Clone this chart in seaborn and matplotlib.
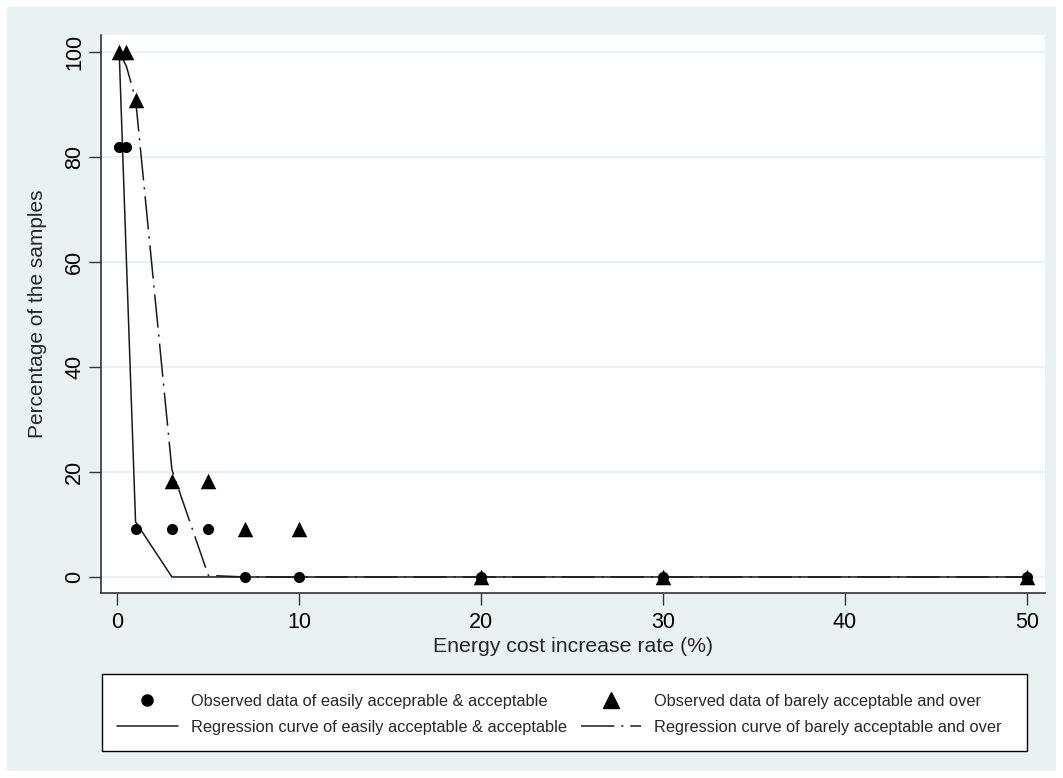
import matplotlib
matplotlib.use("Agg")
import matplotlib.pyplot as plt
import seaborn as sns
from matplotlib.lines import Line2D
from matplotlib.patches import Rectangle

# energy cost increase rate (%)
rate = [0.1, 0.5, 1, 3, 5, 7, 10, 20, 30, 50]
# observed percentages
easy_obs = [81.8, 81.8, 9.1, 9.1, 9.1, 0, 0, 0, 0, 0]
barely_obs = [100, 100, 90.9, 18.2, 18.2, 9.1, 9.1, 0, 0, 0]
# fitted (regression) values at the same rates
easy_fit = [100, 60, 10.5, 0, 0, 0, 0, 0, 0, 0]
barely_fit = [100, 97.2, 91, 20.4, 0.3, 0, 0, 0, 0, 0]

x_ticks = [0, 10, 20, 30, 40, 50]
y_ticks = [0, 20, 40, 60, 80, 100]

legend_labels = [
    "Observed data of easily acceprable & acceptable",
    "Regression curve of easily acceptable & acceptable",
    "Observed data of barely acceptable and over",
    "Regression curve of barely acceptable and over",
]

BG = "#EAF1F3"
INK = "#1a1a1a"
DASHDOT = (0, (24, 5, 1.5, 5))

sns.set_theme(style="white")
plt.rcParams["font.family"] = ["Liberation Sans", "DejaVu Sans"]
plt.rcParams["lines.scale_dashes"] = False

W, H = 1063, 778
fig = plt.figure(figsize=(W / 100, H / 100), dpi=100, facecolor="white")
# light graph region inside a thin white border
fig.patches.append(Rectangle((7 / W, 7 / H), (W - 14) / W, (H - 14) / H,
                             transform=fig.transFigure, facecolor=BG,
                             edgecolor="none", zorder=-10))

ax = fig.add_axes([101 / W, 1 - 593 / H, (1045 - 101) / W, (593 - 35) / H])
ax.set_facecolor("white")

for v in y_ticks:
    ax.axhline(v, color=BG, lw=1.6, zorder=0)

sns.lineplot(x=rate, y=easy_fit, ax=ax, color=INK, lw=1.1, zorder=2)
sns.lineplot(x=rate, y=barely_fit, ax=ax, color=INK, lw=1.1, zorder=2,
             linestyle=DASHDOT)
sns.scatterplot(x=rate, y=easy_obs, ax=ax, marker="o", s=64, color="black",
                linewidth=0, zorder=3)
sns.scatterplot(x=rate, y=barely_obs, ax=ax, marker="^", s=125, color="black",
                linewidth=0, zorder=3)

ax.set_xlim(-0.9, 51.0)
ax.set_ylim(-3.05, 103.2)
ax.set_xticks(x_ticks)
ax.set_yticks(y_ticks)
ax.set_yticklabels([str(v) for v in y_ticks], rotation=90, va="center")
ax.tick_params(axis="both", direction="out", length=8.5, width=1, color="#333333",
               labelsize=15.5, labelcolor="black")
ax.tick_params(left=True, bottom=True)
ax.tick_params(axis="x", pad=5)
ax.tick_params(axis="y", pad=3)

for side in ["top", "right"]:
    ax.spines[side].set_visible(False)
for side in ["left", "bottom"]:
    ax.spines[side].set_color("#333333")
    ax.spines[side].set_linewidth(1.2)

ax.set_xlabel("Energy cost increase rate (%)", fontsize=15.3, labelpad=3)
ax.set_ylabel("Percentage of the samples", fontsize=15, labelpad=12)

# legend box spans nearly the whole width under the axis title
fig.patches.append(Rectangle((102 / W, 1 - 751 / H), (1027 - 102) / W, 77 / H,
                             transform=fig.transFigure, facecolor="white",
                             edgecolor="black", lw=1, zorder=1))

handles = [
    Line2D([], [], marker="o", ls="none", color="black", markersize=8),
    Line2D([], [], color=INK, lw=1.1),
    Line2D([], [], marker="^", ls="none", color="black", markersize=11),
    Line2D([], [], color=INK, lw=1.1, linestyle=DASHDOT),
]
leg = fig.legend(handles, legend_labels, ncol=2, loc="upper left",
                 bbox_to_anchor=(117 / W, 1 - 694 / H),
                 fontsize=11.8, frameon=False, borderpad=0, borderaxespad=0,
                 handlelength=3.7, handletextpad=0.8, columnspacing=0.85,
                 labelspacing=0.65)
leg.set_zorder(2)

fig.savefig("out.png", dpi=100, facecolor="white")
